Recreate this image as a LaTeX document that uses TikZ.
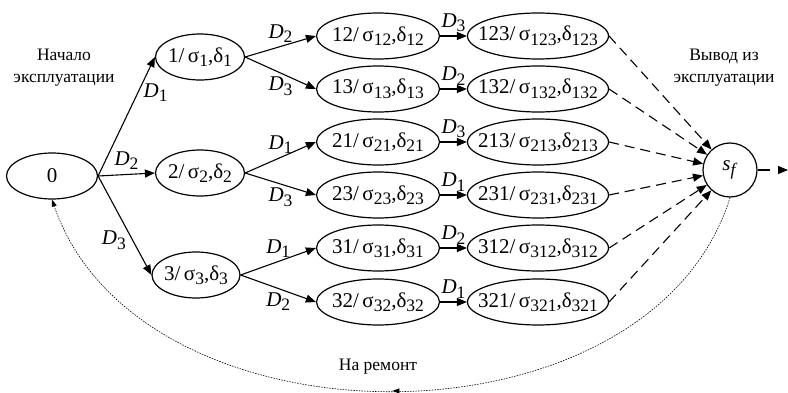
\documentclass[tikz,border=0pt]{standalone}
\usepackage{fontspec}
\setmainfont{Liberation Serif}
\usepackage{tikz}
\usetikzlibrary{arrows.meta, shapes.geometric, decorations.markings}
\newcommand{\subn}[1]{\raisebox{-4.5pt}{\fontsize{17.5}{17.5}\selectfont #1}}
\newcommand{\stn}[1]{\makebox[0pt]{#1/\,σ\subn{#1},δ\subn{#1}}}
\newcommand{\dl}[1]{\textit{D}\subn{#1}}

\begin{document}
\begin{tikzpicture}[x=1pt, y=-1pt, font=\fontsize{21}{24}\selectfont,
  st/.style={ellipse, draw, line width=1.2pt, inner sep=0pt, minimum height=46pt},
  arr/.style={-{Triangle[length=10pt,width=8pt]}, line width=1.1pt},
  dasharr/.style={arr, dash pattern=on 10pt off 6pt},
  lbl/.style={font=\fontsize{17.5}{22}\selectfont, align=center}]
  \useasboundingbox (0,0) rectangle (788,393);
  % states
  \node[st, minimum width=91pt] (n0) at (52,176) {\makebox[0pt]{0}};
  \node[st, minimum width=89pt] (n1) at (200,57) {\stn{1}};
  \node[st, minimum width=89pt] (n2) at (200,173) {\stn{2}};
  \node[st, minimum width=88pt] (n3) at (196,275) {\stn{3}};
  \foreach \k/\y in {12/36,13/89,21/142,23/195,31/248,32/302}
    \node[st, minimum width=123pt] (n\k) at (378,\y) {\stn{\k}};
  \node[circle, draw, line width=1.2pt, minimum size=54pt, inner sep=0pt] (sf) at (730,170)
    {\textit{s}\subn{\textit{f}}};
  \foreach \k/\y in {123/36,132/89,213/142,231/195,312/248,321/302}{
    \node[st, minimum width=141pt] (n\k) at (538,\y) {\stn{\k}};
    \draw[dasharr] (n\k.east) -- (sf);}
  % transitions
  \draw[arr] (n0.east) -- node[pos=0.7, right=2pt]{\dl{1}} (n1.west);
  \draw[arr] (n0.east) -- node[above=1pt]{\dl{2}} (n2.west);
  \draw[arr] (n0.east) -- node[pos=0.65, left=3pt]{\dl{3}} (n3.west);
  \foreach \a/\b/\d/\p in {1/12/2/above, 1/13/3/below, 2/21/1/above, 2/23/3/below,
                           3/31/1/above, 3/32/2/below}
    \draw[arr] (n\a.east) -- node[\p]{\dl{\d}} (n\b.west);
  \foreach \a/\b/\d in {12/123/3, 13/132/2, 21/213/3, 23/231/1, 31/312/2, 32/321/1}
    \draw[arr] (n\a.east) -- node[above=0pt]{\dl{\d}} (n\b.west);
  \coordinate (exit) at (788,170);
  \draw[arr, dash pattern=on 12pt off 12pt] (sf.east) -- (exit);
  % repair loop
  \draw[line width=0.6pt, dash pattern=on 1.5pt off 1.2pt,
        -{Triangle[length=7pt,width=5pt]},
        postaction={decorate, decoration={markings,
          mark=at position 0.5 with {\arrow{Triangle[length=7pt,width=5pt]}}}}]
    (sf.south) .. controls (650,455) and (140,455) .. (n0.south);
  % captions
  \node[lbl] (start) at (64,68) {Начало\\эксплуатации};
  \node[lbl] (finish) at (724,68) {Вывод из\\эксплуатации};
  \node[lbl] (repair) at (378,367) {На ремонт};
\end{tikzpicture}
\end{document}
